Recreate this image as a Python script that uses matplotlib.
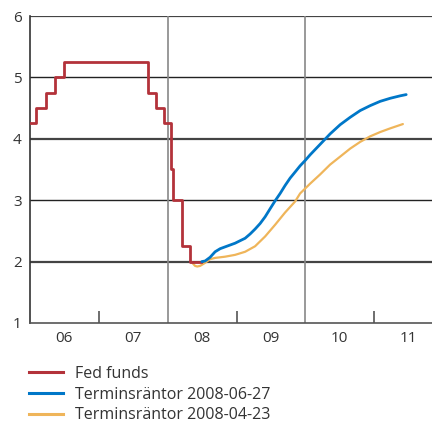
import matplotlib
matplotlib.use("Agg")
import matplotlib.pyplot as plt
from matplotlib.lines import Line2D

plt.rcParams['font.family'] = ['Open Sans', 'DejaVu Sans']

# Fed funds target rate (step changes, decimal years)
fed_t = [2006.0, 2006.083, 2006.238, 2006.356, 2006.49, 2007.71, 2007.83,
         2007.945, 2008.055, 2008.08, 2008.21, 2008.33, 2008.49]
fed_v = [4.25, 4.50, 4.75, 5.00, 5.25, 4.75, 4.50,
         4.25, 3.50, 3.00, 2.25, 2.00, 2.00]

# Forward rates 2008-06-27
fwd_jun_t = [2008.496, 2008.544, 2008.616, 2008.689, 2008.762, 2008.834,
             2008.907, 2008.980, 2009.052, 2009.125, 2009.198, 2009.270,
             2009.343, 2009.416, 2009.488, 2009.561, 2009.634, 2009.706,
             2009.779, 2009.852, 2009.924, 2010.000, 2010.070, 2010.215,
             2010.360, 2010.506, 2010.651, 2010.797, 2010.942, 2011.087,
             2011.233, 2011.378, 2011.465]
fwd_jun_v = [2.00, 2.01, 2.07, 2.16, 2.21, 2.24,
             2.27, 2.30, 2.34, 2.38, 2.45, 2.53,
             2.62, 2.73, 2.86, 2.99, 3.11, 3.24,
             3.36, 3.46, 3.56, 3.65, 3.74, 3.91,
             4.08, 4.23, 4.35, 4.46, 4.54, 4.61,
             4.66, 4.70, 4.72]

# Forward rates 2008-04-23
fwd_apr_t = [2008.35, 2008.398, 2008.43, 2008.471, 2008.544, 2008.616,
             2008.689, 2008.834, 2008.980, 2009.125, 2009.270, 2009.416,
             2009.561, 2009.706, 2009.852, 2009.924, 2010.070, 2010.215,
             2010.360, 2010.506, 2010.651, 2010.797, 2010.942, 2011.087,
             2011.233, 2011.417]
fwd_apr_v = [1.99, 1.93, 1.92, 1.93, 1.98, 2.04,
             2.06, 2.08, 2.11, 2.16, 2.25, 2.41,
             2.60, 2.80, 2.98, 3.11, 3.27, 3.42,
             3.58, 3.71, 3.84, 3.95, 4.04, 4.11,
             4.17, 4.24]

year_labels = ['06', '07', '08', '09', '10', '11']
years = [2006, 2007, 2008, 2009, 2010, 2011]

RED = '#B3323A'
BLUE = '#0077C8'
ORANGE = '#EFB55A'
TXT = '#333333'

fig = plt.figure(figsize=(4.32, 4.25), dpi=100)
ax = fig.add_axes([30/432, 1 - 323/425, 1 - 30/432, (323 - 16)/425])

ax.set_xlim(2006.0, 2011.84)
ax.set_ylim(1, 6)

# horizontal grid lines
for y in [2, 4, 6]:
    ax.axhline(y, color='#444444', lw=1.6, zorder=1)
for y in [3, 5]:
    ax.axhline(y, color='#222222', lw=1.0, zorder=1)
# vertical separators
for x in [2008, 2010]:
    ax.axvline(x, color='#888888', lw=1.2, zorder=1)

ax.plot(fwd_apr_t, fwd_apr_v, color=ORANGE, lw=1.6, zorder=3,
        solid_capstyle='round', solid_joinstyle='round')
ax.plot(fed_t, fed_v, color=RED, lw=2.0, drawstyle='steps-post', zorder=4)
ax.plot(fwd_jun_t, fwd_jun_v, color=BLUE, lw=2.0, zorder=5,
        solid_capstyle='round', solid_joinstyle='round')

for s in ['right', 'top']:
    ax.spines[s].set_visible(False)
ax.spines['left'].set_color('#333333')
ax.spines['left'].set_linewidth(1.2)
ax.spines['bottom'].set_color('#555555')
ax.spines['bottom'].set_linewidth(1.2)

ax.set_yticks([1, 2, 3, 4, 5, 6])
ax.set_yticklabels(['1', '2', '3', '4', '5', '6'])
ax.tick_params(axis='y', length=0, pad=6, labelsize=11, labelcolor=TXT)

ax.set_xticks([2007, 2009, 2011])
ax.set_xticklabels([])
ax.set_xticks([y + 0.5 for y in years], minor=True)
ax.set_xticklabels(year_labels, minor=True)
ax.tick_params(axis='x', which='major', direction='in', length=9,
               width=1.2, color='#555555')
ax.tick_params(axis='x', which='minor', length=0, pad=6, labelsize=11,
               labelcolor=TXT)

handles = [Line2D([], [], color=RED, lw=2.2),
           Line2D([], [], color=BLUE, lw=2.2),
           Line2D([], [], color=ORANGE, lw=2.2)]
labels = ['Fed funds', 'Terminsräntor 2008-06-27', 'Terminsräntor 2008-04-23']
fig.legend(handles, labels, loc='upper left',
           bbox_to_anchor=(24.5/432, 1 - 361/425),
           frameon=False, fontsize=11.5, handlelength=2.1, handletextpad=0.75,
           labelspacing=0.3, labelcolor=TXT, borderaxespad=0, borderpad=0.3)

fig.savefig('out.png', dpi=100)
